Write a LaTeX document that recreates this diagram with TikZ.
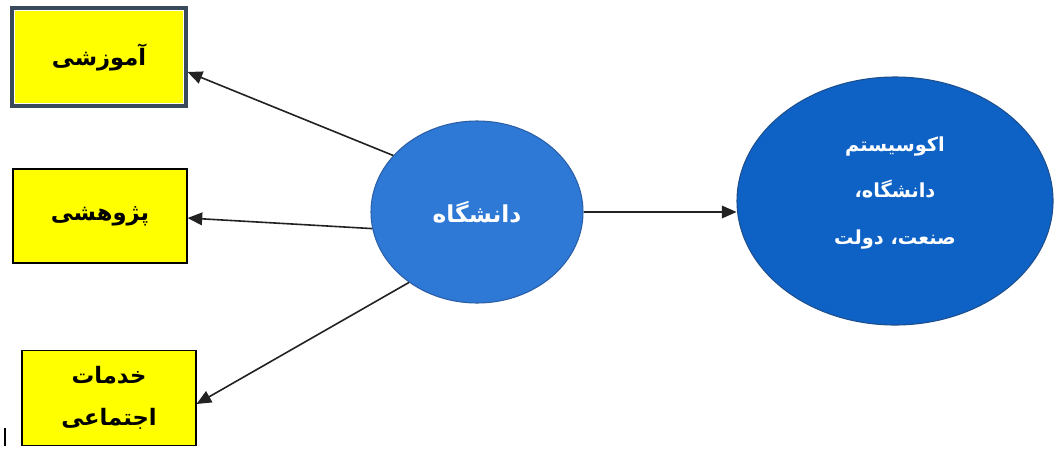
\documentclass[tikz,border=0pt]{standalone}
\usepackage{fontspec}
\TeXXeTstate=1
\newfontfamily\arabicfont[Script=Arabic]{DejaVu Sans}
\usetikzlibrary{arrows.meta,calc,shapes.geometric}
\definecolor{boxyellow}{HTML}{FFFF00}
\definecolor{boxedge}{HTML}{3B4A5A}
\definecolor{uniblue}{HTML}{2F79D6}
\definecolor{uniedge}{HTML}{2A5FA8}
\definecolor{ecoblue}{HTML}{0E62C6}
\definecolor{ecoedge}{HTML}{1C4F8E}
\definecolor{arrowgray}{HTML}{222222}
\tikzset{
  ybox/.style={draw=black, line width=0.8pt, fill=boxyellow, minimum width=130.5pt, inner sep=0pt,
    font=\arabicfont\bfseries\fontsize{17}{32}\selectfont, align=center, text=black},
  uni/.style={ellipse, draw=uniedge, line width=0.8pt, fill=uniblue, minimum width=159pt, minimum height=136.5pt,
    font=\arabicfont\bfseries\fontsize{17.5}{30}\selectfont, text=white, inner sep=0pt},
  eco/.style={ellipse, draw=ecoedge, line width=0.8pt, fill=ecoblue, minimum width=237pt, minimum height=186pt, inner sep=0pt},
  ecotext/.style={font=\arabicfont\bfseries\fontsize{14.5}{35}\selectfont, text=white, align=center, inner sep=0pt},
  conn/.style={draw=arrowgray, line width=1.2pt, -{Triangle[length=11pt,width=9.5pt]}}
}
\begin{document}
\begin{tikzpicture}[x=0.75pt,y=-0.75pt]
\useasboundingbox (0,0) rectangle (1059,450);
\fill[white] (0,0) rectangle (1059,450);

\node[ybox, draw=boxedge, line width=2.4pt, minimum height=73.5pt] (b1) at (99,57) {\raisebox{3pt}{\beginR آموزشی\endR}};
\draw[white, line width=0.8pt] ($(b1.north west)+(4,4)$) rectangle ($(b1.south east)+(-4,-4)$);
\node[ybox, minimum height=70.5pt] (b2) at (100,216) {\beginR پژوهشی\endR};
\node[ybox, minimum height=71.25pt] (b3) at (109,398) {\beginR خدمات\endR\\\beginR اجتماعی\endR};

\node[uni] (u) at (477,212) {\beginR دانشگاه\endR};
\node[eco] (e) at (895,201) {};
\node[ecotext] (et) at (895,193) {\beginR اکوسیستم\endR\\\beginR دانشگاه،\endR\\\beginR صنعت، دولت\endR};

\draw[conn] (u.146) -- ($(b1.east)+(0,15)$);
\draw[conn] (u.189) -- ($(b2.east)+(0,2)$);
\draw[conn] (u.226) -- ($(b3.east)+(0,6)$);
\coordinate (ein) at (e.west |- u.east);
\draw[conn] (u.east) -- (ein);

\coordinate (cur1) at (5,428);
\coordinate (cur2) at (5,446);
\draw[black, line width=0.8pt] (cur1) -- (cur2);
\end{tikzpicture}
\end{document}
